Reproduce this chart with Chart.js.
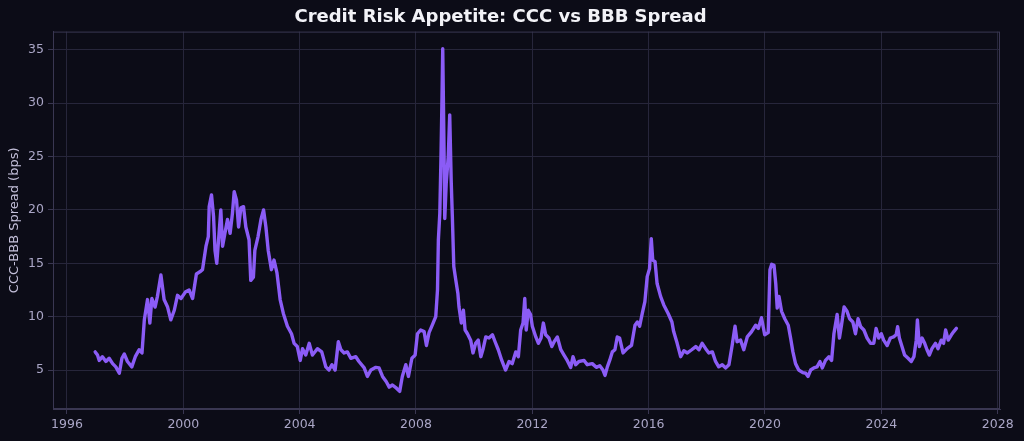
<!DOCTYPE html>
<html>
<head>
<meta charset="utf-8">
<script src="https://cdn.jsdelivr.net/npm/chart.js@4.4.1/dist/chart.umd.min.js"></script>
<style>
  html, body { margin: 0; padding: 0; background: #0c0c17; }
  #wrap { width: 1024px; height: 441px; }
</style>
</head>
<body>
<div id="wrap"><canvas id="c" width="1024" height="441"></canvas></div>
<script>
const years = [
  1996.97,1997.05,1997.11,1997.22,1997.34,1997.45,1997.57,1997.68,1997.80,1997.89,1997.97,
  1998.08,1998.23,1998.35,1998.48,1998.58,1998.66,1998.77,1998.85,1998.92,
  1999.03,1999.11,1999.23,1999.34,1999.46,1999.57,1999.69,1999.80,1999.92,
  2000.07,2000.20,2000.32,2000.45,2000.57,2000.66,2000.78,2000.86,2000.89,2000.97,
  2001.04,2001.09,2001.15,2001.23,2001.29,2001.35,2001.43,2001.52,2001.61,2001.69,2001.75,2001.83,2001.90,2001.98,
  2002.07,2002.15,2002.26,2002.32,2002.41,2002.46,2002.57,2002.67,2002.76,2002.84,2002.92,
  2003.03,2003.12,2003.22,2003.33,2003.44,2003.58,2003.72,2003.81,2003.92,
  2004.02,2004.10,2004.21,2004.33,2004.44,2004.61,2004.76,2004.90,
  2005.01,2005.11,2005.22,2005.33,2005.42,2005.53,2005.64,2005.76,2005.93,
  2006.04,2006.22,2006.33,2006.45,2006.62,2006.73,2006.85,2006.98,
  2007.08,2007.19,2007.33,2007.44,2007.53,2007.65,2007.74,2007.86,2007.97,
  2008.05,2008.16,2008.28,2008.36,2008.45,2008.56,2008.68,2008.74,2008.77,2008.82,2008.86,2008.89,2008.92,2008.96,2008.99,
  2009.04,2009.11,2009.16,2009.21,2009.25,2009.30,2009.37,2009.44,2009.48,2009.56,2009.63,2009.69,2009.77,2009.88,2009.96,
  2010.05,2010.14,2010.23,2010.31,2010.40,2010.51,2010.63,2010.72,2010.83,2010.95,
  2011.08,2011.20,2011.31,2011.43,2011.52,2011.60,2011.68,2011.74,2011.79,2011.86,2011.94,
  2012.00,2012.12,2012.21,2012.30,2012.38,2012.46,2012.57,2012.67,2012.75,2012.86,2012.98,
  2013.09,2013.20,2013.32,2013.40,2013.49,2013.60,2013.78,2013.89,
  2014.06,2014.20,2014.32,2014.43,2014.50,2014.58,2014.66,2014.75,2014.84,2014.92,
  2015.00,2015.12,2015.26,2015.41,2015.53,2015.61,2015.69,2015.78,2015.87,2015.95,
  2016.03,2016.09,2016.14,2016.22,2016.29,2016.41,2016.52,2016.67,2016.80,2016.86,2016.98,
  2017.10,2017.21,2017.33,2017.48,2017.62,2017.73,2017.84,2017.96,
  2018.07,2018.19,2018.30,2018.41,2018.53,2018.65,2018.76,2018.87,2018.97,
  2019.04,2019.16,2019.27,2019.39,2019.54,2019.68,2019.77,2019.88,2019.99,
  2020.11,2020.17,2020.23,2020.31,2020.37,2020.42,2020.48,2020.57,2020.68,2020.80,2020.88,2020.96,
  2021.05,2021.16,2021.30,2021.40,2021.48,2021.57,2021.68,2021.79,2021.89,2021.97,
  2022.08,2022.20,2022.29,2022.37,2022.48,2022.56,2022.63,2022.72,2022.82,2022.91,
  2023.02,2023.11,2023.20,2023.29,2023.40,2023.51,2023.63,2023.74,2023.82,2023.91,
  2024.00,2024.08,2024.20,2024.31,2024.42,2024.51,2024.56,2024.62,2024.71,2024.80,2024.92,
  2025.03,2025.12,2025.20,2025.24,2025.31,2025.40,2025.49,2025.57,2025.65,2025.74,2025.86,2025.95,
  2026.06,2026.14,2026.21,2026.30,2026.41,2026.49,2026.58
];
const spread = [
  6.7,6.4,5.9,6.25,5.8,6.1,5.6,5.3,4.7,6.1,6.5,
  5.8,5.3,6.25,6.9,6.6,9.7,11.6,9.4,11.7,
  10.9,11.9,13.9,11.6,10.9,9.7,10.6,12.0,11.7,
  12.3,12.5,11.7,14.0,14.2,14.4,16.6,17.5,20.3,21.4,
  19.4,16.2,15.0,17.8,20.0,16.6,17.8,19.1,17.8,19.7,21.7,20.9,18.4,20.2,
  20.3,18.4,17.2,13.4,13.7,16.2,17.5,19.1,20.0,18.4,16.2,
  14.4,15.3,14.1,11.6,10.3,9.1,8.4,7.5,7.2,
  5.9,7.0,6.4,7.5,6.4,7.0,6.7,5.3,
  5.0,5.5,5.0,7.65,6.9,6.6,6.7,6.1,6.25,
  5.8,5.2,4.4,5.0,5.25,5.2,4.4,3.9,
  3.4,3.6,3.3,3.0,4.4,5.5,4.4,6.1,6.4,
  8.4,8.75,8.6,7.3,8.5,9.2,10.0,12.5,17.2,19.7,25.0,29.7,35.1,26.6,19.2,
  22.5,25.0,28.9,22.8,19.4,14.7,13.4,12.2,10.9,9.4,10.6,8.75,8.4,7.8,6.6,
  7.5,7.8,6.25,7.0,8.1,8.0,8.3,7.65,6.9,5.9,
  5.0,5.8,5.6,6.7,6.25,8.75,9.4,11.7,8.75,10.6,10.2,
  9.1,8.1,7.5,8.0,9.4,8.3,8.0,7.2,7.65,8.1,6.9,
  6.4,5.9,5.25,6.25,5.5,5.8,5.9,5.5,
  5.6,5.25,5.4,5.0,4.5,5.3,5.9,6.7,6.9,8.1,
  8.0,6.6,7.0,7.3,9.2,9.5,9.1,10.3,11.4,13.75,
  14.5,17.3,15.3,15.15,13.1,11.9,11.1,10.3,9.5,8.6,7.5,
  6.25,6.8,6.6,6.9,7.2,6.9,7.5,7.0,
  6.6,6.7,5.8,5.3,5.5,5.2,5.5,7.3,9.1,
  7.65,7.8,6.9,8.1,8.6,9.2,8.9,9.9,8.3,
  8.5,14.4,14.9,14.8,13.1,10.8,11.9,10.5,9.8,9.2,8.0,6.7,
  5.6,5.0,4.75,4.7,4.4,5.0,5.2,5.3,5.8,5.2,
  5.9,6.25,5.9,8.4,10.2,8.0,9.2,10.9,10.5,9.8,
  9.5,8.4,9.8,9.05,8.75,8.0,7.5,7.5,8.9,8.0,
  8.4,7.8,7.3,8.0,8.1,8.3,9.05,8.0,7.2,6.4,6.1,
  5.8,6.25,7.8,9.7,7.2,8.0,7.5,6.9,6.4,7.0,7.5,7.0,
  7.8,7.5,8.75,7.8,8.3,8.6,8.9
];
const xTicks = [1996, 2000, 2004, 2008, 2012, 2016, 2020, 2024, 2028];
const yTicks = [5, 10, 15, 20, 25, 30, 35];

const points = years.map((x, i) => ({ x: x, y: spread[i] }));

const gridColor = '#27263b';
const spineColor = '#3a3752';
const tickText = '#aaa6c6';

const framePlugin = {
  id: 'frame',
  beforeDraw(chart) {
    const ctx = chart.ctx;
    ctx.save();
    ctx.fillStyle = '#0c0c17';
    ctx.fillRect(0, 0, chart.width, chart.height);
    ctx.restore();
  },
  afterDatasetsDraw(chart) {
    const a = chart.chartArea, ctx = chart.ctx;
    ctx.save();
    ctx.strokeStyle = spineColor;
    ctx.lineWidth = 1;
    ctx.strokeRect(a.left + 0.5, a.top + 0.5, a.right - a.left - 1, a.bottom - a.top - 1);
    ctx.restore();
  }
};

new Chart(document.getElementById('c'), {
  type: 'line',
  data: {
    datasets: [{
      data: points,
      borderColor: '#8b5cf6',
      borderWidth: 3.4,
      pointRadius: 0,
      tension: 0,
      borderJoinStyle: 'round',
      borderCapStyle: 'round',
      fill: false
    }]
  },
  options: {
    responsive: false,
    animation: false,
    devicePixelRatio: 1,
    layout: { padding: { left: 1, right: 24, top: 0, bottom: 0 } },
    plugins: {
      legend: { display: false },
      tooltip: { enabled: false },
      title: {
        display: true,
        text: 'Credit Risk Appetite: CCC vs BBB Spread',
        color: '#f2f2f7',
        font: { family: 'DejaVu Sans', size: 18, weight: 'bold' },
        padding: { top: 7, bottom: 3 }
      }
    },
    scales: {
      x: {
        type: 'linear',
        min: 1995.52,
        max: 2028.08,
        afterBuildTicks: s => { s.ticks = xTicks.map(v => ({ value: v })); },
        afterFit: s => { s.height = 32; },
        ticks: {
          color: tickText,
          font: { family: 'DejaVu Sans', size: 12.5 },
          padding: 3,
          maxRotation: 0,
          autoSkip: false,
          callback: v => String(v)
        },
        grid: { color: gridColor, lineWidth: 1, drawTicks: true, tickLength: 5, tickColor: spineColor },
        border: { display: true, color: spineColor, width: 1 }
      },
      y: {
        type: 'linear',
        min: 1.35,
        max: 36.7,
        afterBuildTicks: s => { s.ticks = yTicks.map(v => ({ value: v })); },
        afterFit: s => { s.width = 52; },
        ticks: {
          color: tickText,
          font: { family: 'DejaVu Sans', size: 12.5 },
          padding: 4,
          autoSkip: false,
          callback: v => String(v)
        },
        title: {
          display: true,
          text: 'CCC-BBB Spread (bps)',
          color: '#c4c0da',
          font: { family: 'DejaVu Sans', size: 13 },
          padding: { top: 6, bottom: 0 }
        },
        grid: { color: gridColor, lineWidth: 1, drawTicks: true, tickLength: 5, tickColor: spineColor },
        border: { display: true, color: spineColor, width: 1 }
      }
    }
  },
  plugins: [framePlugin]
});
</script>
</body>
</html>
